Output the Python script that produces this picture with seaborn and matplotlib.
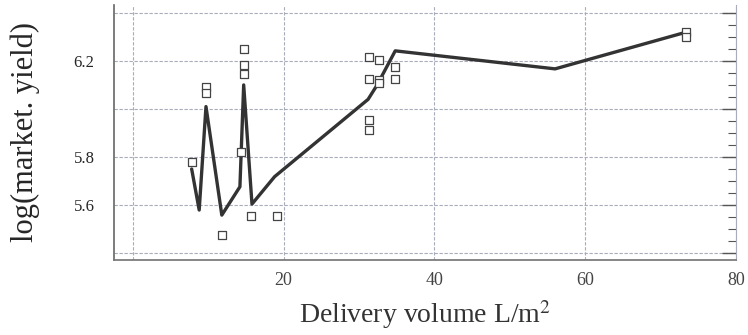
import numpy as np
import pandas as pd
import matplotlib
matplotlib.use("Agg")
import matplotlib.pyplot as plt
from matplotlib.ticker import MultipleLocator
import seaborn as sns

# observed plots (open squares)
obs_volume = [7.9, 9.7, 9.7, 11.8, 14.7, 14.7, 14.7, 14.4, 15.7, 19.1,
              31.3, 32.6, 31.3, 32.6, 32.6, 34.8, 34.8, 31.3, 31.3, 73.4, 73.4]
obs_yield = [5.778, 6.09, 6.065, 5.474, 6.251, 6.182, 6.146, 5.82, 5.554, 5.554,
             6.215, 6.203, 6.124, 6.12, 6.108, 6.175, 6.126, 5.954, 5.913, 6.322, 6.301]

# fitted curve
fit_volume = [7.8, 8.8, 9.7, 11.8, 14.2, 14.7, 15.8, 18.8, 31.2, 32.4, 34.8, 56.0, 73.4]
fit_yield = [5.75, 5.579, 6.01, 5.558, 5.676, 6.10, 5.604, 5.718, 6.04, 6.10, 6.242, 6.167, 6.32]

x_ticks = [0, 20, 40, 60, 80]
x_labels = ["", "20", "40", "60", "80"]
y_ticks = [5.4, 5.6, 5.8, 6.0, 6.2, 6.4]
y_labels = ["", "5.6", "5.8", "", "6.2", ""]

obs = pd.DataFrame({"volume": obs_volume, "yield": obs_yield})
fit = pd.DataFrame({"volume": fit_volume, "yield": fit_yield})

sns.set_theme(style="white")
plt.rcParams["font.family"] = ["Liberation Serif", "DejaVu Serif"]
plt.rcParams["mathtext.fontset"] = "stix"

fig = plt.figure(figsize=(7.48, 3.35), dpi=100)
ax = fig.add_axes([0.1524, 0.2239, 0.8316, 0.7612])

grid_kw = dict(color="#a9adbb", lw=0.8, ls=(0, (3, 1.5)), zorder=0)
for v in x_ticks:
    ax.axvline(v, **grid_kw)
for v in y_ticks:
    ax.axhline(v, **grid_kw)

sns.lineplot(data=fit, x="volume", y="yield", sort=False, estimator=None,
             color="#333333", lw=2.4, ax=ax, zorder=3)
sns.scatterplot(data=obs, x="volume", y="yield", marker="s", s=40,
                facecolor="white", edgecolor="#444444", linewidth=0.9,
                ax=ax, zorder=4)

ax.set_xlim(-2.5, 80)
ax.set_ylim(5.371, 6.433)

ax.set_xticks(x_ticks)
ax.set_xticklabels(x_labels)
ax.set_yticks(y_ticks)
ax.set_yticklabels(y_labels)
ax.yaxis.set_minor_locator(MultipleLocator(0.05))

ax.tick_params(axis="y", which="major", direction="in", length=10, width=1,
               color="#555555", pad=14, labelsize=12, right=True)
ax.tick_params(axis="y", which="minor", direction="in", length=6, width=0.8,
               color="#555555", right=True)
ax.tick_params(axis="x", which="major", direction="in", length=4, width=0.8,
               color="#777777", pad=9, labelsize=13, labelcolor="#444444")

ax.spines["top"].set_visible(False)
ax.spines["left"].set_color("#666666")
ax.spines["left"].set_linewidth(1.2)
ax.spines["bottom"].set_color("#777777")
ax.spines["right"].set_color("#a9adbb")
ax.spines["right"].set_linewidth(0.8)

ax.set_xlabel("Delivery volume L/m$^2$", fontsize=20, labelpad=6,
              color="#333333")
ax.set_ylabel("log(market. yield)", fontsize=22, labelpad=24)

fig.savefig("out.png", dpi=100, facecolor="white")
